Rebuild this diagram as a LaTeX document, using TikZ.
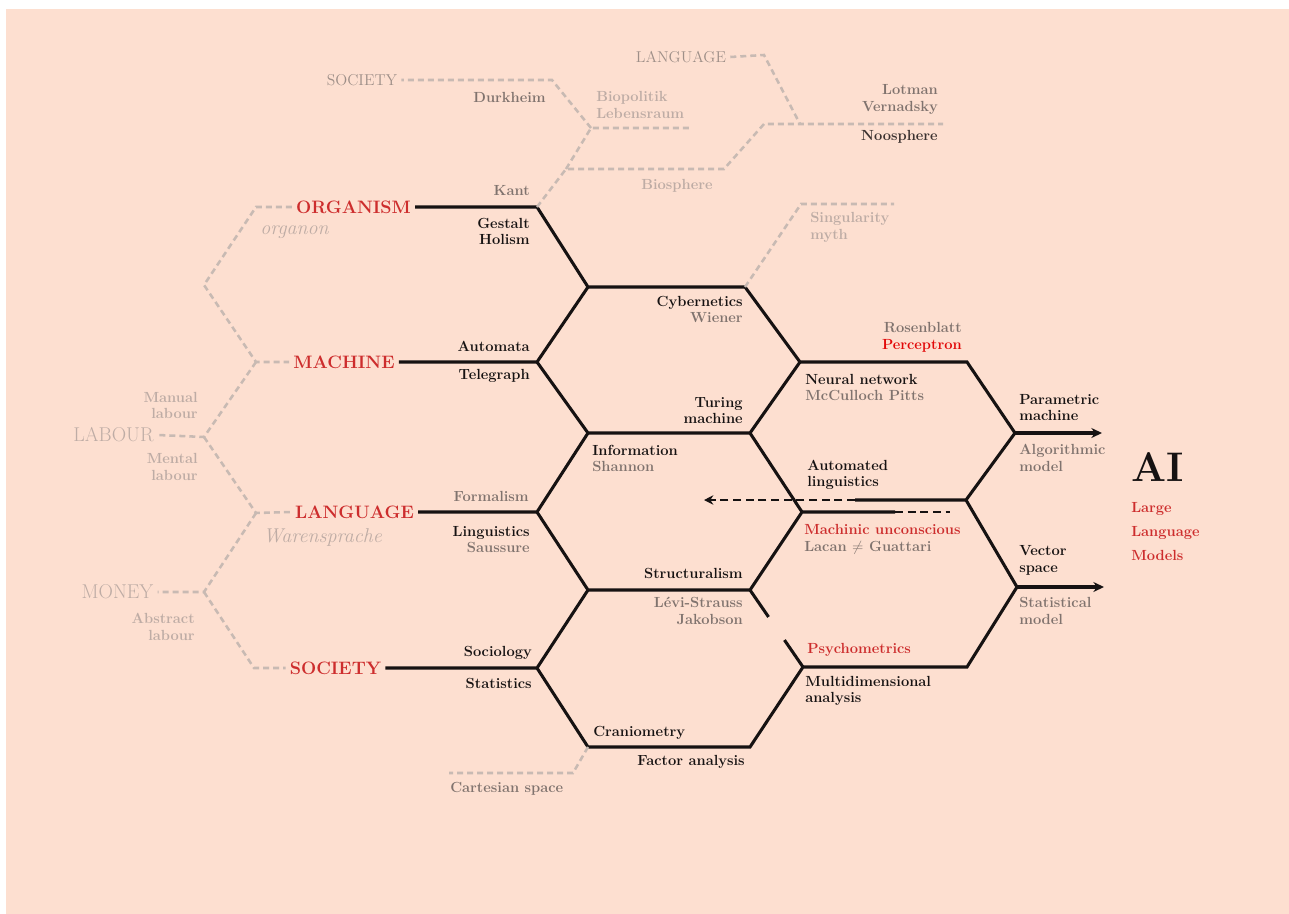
\documentclass[tikz,border=0pt]{standalone}
\usetikzlibrary{calc,positioning,arrows.meta,backgrounds}
\definecolor{peach}{RGB}{253,223,208}
\definecolor{hexred}{RGB}{205,45,45}
\definecolor{brightred}{RGB}{226,8,8}
\definecolor{ink}{RGB}{22,18,18}
\definecolor{namegray}{RGB}{128,115,110}
\definecolor{dimgray}{RGB}{158,143,136}
\definecolor{noogray}{RGB}{60,50,48}
\definecolor{fadegray}{RGB}{190,172,165}
\definecolor{dashgray}{RGB}{200,186,179}
\tikzstyle{every node}+=[inner sep=2pt,font=\fontsize{11}{12.5}\selectfont\bfseries]
\tikzstyle{hexline}=[ink,line width=2.3pt]
\tikzstyle{hexdash}=[ink,line width=2.1pt,dash pattern=on 6pt off 3.5pt]
\tikzstyle{faint}=[dashgray,line width=1.9pt,dash pattern=on 4.5pt off 3pt]
\tikzstyle{concept}=[hexred,inner sep=3pt,font=\fontsize{13.5}{15}\selectfont\bfseries]
\tikzstyle{ghost}=[fadegray,inner sep=3pt,font=\fontsize{15}{17}\selectfont]
\tikzstyle{ghostsmall}=[dimgray,inner sep=3pt,font=\fontsize{11.8}{14}\selectfont]
\tikzstyle{ghostit}=[fadegray,font=\fontsize{15}{17}\selectfont\itshape]
\tikzstyle{lblr}=[anchor=east,align=right,inner sep=0pt,text=ink]
\tikzstyle{lbll}=[anchor=west,align=left,inner sep=0pt,text=ink]
\newcommand{\who}[1]{\textcolor{namegray}{#1}}

\begin{document}
\begin{tikzpicture}[x=0.75pt,y=-0.75pt]
\useasboundingbox (0,0) rectangle (1289,914);
\fill[white] (0,0) rectangle (1289,914);
\fill[peach] (6,9) rectangle (1289,914);

% lattice corners
\coordinate (o1) at (537,207);
\coordinate (a1) at (588,287);
\coordinate (a2) at (745,287);
\coordinate (m1) at (537,362);
\coordinate (n1) at (800,362);
\coordinate (n2) at (967,362);
\coordinate (b1) at (588,433);
\coordinate (b2) at (750,433);
\coordinate (p1) at (1015,433);
\coordinate (pend) at (1102,433);
\coordinate (r1) at (966,500);
\coordinate (rcut) at (855,500);
\coordinate (rtip) at (704,500);
\coordinate (l1) at (537,512);
\coordinate (u1) at (802,512);
\coordinate (ucut) at (895,512);
\coordinate (uend) at (950,512);
\coordinate (s1) at (588,590);
\coordinate (s2) at (750,590);
\coordinate (v1) at (1017,587);
\coordinate (vend) at (1104,587);
\coordinate (c1) at (537,668);
\coordinate (q1) at (803,667);
\coordinate (q2) at (967,667);
\coordinate (f1) at (588,747);
\coordinate (f2) at (750,747);
\coordinate (gapA) at ($(s2)!0.35!(q1)$);
\coordinate (gapB) at ($(s2)!0.65!(q1)$);

% the four concepts
\node[concept] (organism) at (353.5,207) {ORGANISM};
\node[concept] (machine) at (344,362) {MACHINE};
\node[concept] (language) at (354.5,512) {LANGUAGE};
\node[concept] (society) at (335.5,668) {SOCIETY};
\node[ghost] (labour) at (113.5,435) {LABOUR};
\node[ghost] (money) at (117.5,592) {MONEY};
\node[ghostsmall] (topsociety) at (362,80) {SOCIETY};
\node[ghostsmall] (toplanguage) at (681,57) {LANGUAGE};

% hexagons
\draw[hexline] (organism.east) -- (o1) -- (a1) -- (a2) -- (n1) -- (n2) -- (p1) -- (r1) -- (rcut);
\draw[hexline] (machine.east) -- (m1) -- (a1);
\draw[hexline] (m1) -- (b1) -- (b2) -- (n1);
\draw[hexline] (language.east) -- (l1) -- (b1);
\draw[hexline] (l1) -- (s1) -- (s2) -- (u1) -- (ucut);
\draw[hexline] (b2) -- (u1);
\draw[hexline] (society.east) -- (c1) -- (s1);
\draw[hexline] (c1) -- (f1) -- (f2) -- (q1) -- (q2) -- (v1) -- (r1);
\draw[hexline] (s2) -- (gapA);
\draw[hexline] (gapB) -- (q1);
\draw[hexline,-{Stealth[length=8pt,width=7.5pt]}] (p1) -- (pend);
\draw[hexline,-{Stealth[length=8pt,width=7.5pt]}] (v1) -- (vend);
\draw[hexdash,-{Stealth[length=7pt,width=7pt]}] (rcut) -- (rtip);
\draw[hexdash] (ucut) -- (uend);

% grey genealogy
\coordinate (k1) at (256,207);
\coordinate (k2) at (204,285);
\coordinate (k3) at (256,362);
\coordinate (k4) at (204,437);
\coordinate (k5) at (256,513);
\coordinate (k6) at (204,592);
\coordinate (k7) at (254,668);
\draw[faint] (organism.west) -- (k1) -- (k2) -- (k3) -- (machine.west);
\draw[faint] (k3) -- (k4) -- (labour.east);
\draw[faint] (k4) -- (k5) -- (language.west);
\draw[faint] (k5) -- (k6) -- (money.east);
\draw[faint] (k6) -- (k7) -- (society.west);

\coordinate (t1) at (566,169);
\coordinate (t2) at (724,169);
\coordinate (t3) at (764,124);
\coordinate (t4) at (943,124);
\coordinate (t5) at (591,128);
\coordinate (t6) at (692,128);
\coordinate (t7) at (552,80);
\coordinate (t8) at (764,55);
\coordinate (t9) at (800,124);
\coordinate (t10) at (801,204);
\coordinate (t11) at (894,204);
\coordinate (t12) at (573,773);
\coordinate (t13) at (449,773);
\draw[faint] (o1) -- (t1) -- (t2) -- (t3) -- (t4);
\draw[faint] (t1) -- (t5) -- (t6);
\draw[faint] (t5) -- (t7) -- (topsociety.east);
\draw[faint] (toplanguage.east) -- (t8) -- (t9);
\draw[faint] (a2) -- (t10) -- (t11);
\draw[faint] (f1) -- (t12) -- (t13);

% labels on the lattice
\node[lblr,text=namegray] (kant) at (530,191) {Kant};
\node[lblr] (gestalt) at (530,231.5) {Gestalt\\Holism};
\node[lblr] (automata) at (530,346) {Automata};
\node[lblr] (telegraph) at (530,376) {Telegraph};
\node[lblr,text=namegray] (formalism) at (529,496) {Formalism};
\node[lblr] (linguistics) at (530,539.5) {Linguistics\\\who{Saussure}};
\node[lblr] (sociology) at (532,653) {Sociology};
\node[lblr] (statistics) at (532,683) {Statistics};
\node[lblr] (cybernetics) at (743,309.5) {Cybernetics\\\who{Wiener}};
\node[lblr] (turing) at (743,410.5) {Turing\\machine};
\node[lblr] (structuralism) at (743,573) {Structuralism};
\node[lblr,text=namegray] (levistrauss) at (743,611) {Lévi-Strauss\\Jakobson};
\node[lblr] (factor) at (745,762) {Factor analysis};
\node[lblr,text=namegray] (rosenblatt) at (962,337.5) {Rosenblatt\\\textcolor{brightred}{Perceptron}};
\node[lbll] (information) at (592,458.5) {Information\\\who{Shannon}};
\node[lbll] (neural) at (805,387.5) {Neural network\\\who{McCulloch Pitts}};
\node[lbll] (parametric) at (1019,407.5) {Parametric\\machine};
\node[lbll,text=namegray] (algorithmic) at (1019,458) {Algorithmic\\model};
\node[lbll] (automated) at (807,475) {Automated\\linguistics};
\node[lbll,text=hexred] (machinic) at (804,539.5) {Machinic unconscious\\\who{Lacan $\neq$ Guattari}};
\node[lbll] (vector) at (1019,560.5) {Vector\\space};
\node[lbll,text=namegray] (statistical) at (1019,611) {Statistical\\model};
\node[lbll,text=hexred] (psychometrics) at (807,650) {Psychometrics};
\node[lbll] (multidim) at (805,691) {Multidimensional\\analysis};
\node[lbll] (craniometry) at (593,733) {Craniometry};
\node[lbll,text=namegray] (cartesian) at (450,789) {Cartesian space};

% labels on the grey lines
\node[lblr,text=namegray] (durkheim) at (546,97) {Durkheim};
\node[lbll,text=fadegray] (biopolitik) at (596,105) {Biopolitik\\Lebensraum};
\node[lblr,text=namegray] (lotman) at (938,99.5) {Lotman\\Vernadsky};
\node[lblr,text=noogray] (noosphere) at (938,137) {Noosphere};
\node[text=fadegray,inner sep=0pt] (biosphere) at (677,186) {Biosphere};
\node[lbll,text=fadegray] (singularity) at (810,227.5) {Singularity\\myth};
\node[lblr,text=fadegray] (manual) at (198,405.5) {Manual\\labour};
\node[lblr,text=fadegray] (mental) at (198,467) {Mental\\labour};
\node[lblr,text=fadegray] (abstract) at (195,627) {Abstract\\labour};
\node[lbll,ghostit] (organon) at (260,232) {organon};
\node[lbll,ghostit] (warensprache) at (263,537) {Warensprache};

% outcome
\node[lbll,font=\fontsize{31}{31}\selectfont\bfseries] (ai) at (1131,467.5) {AI};
\node[lbll,text=hexred,font=\fontsize{11}{18}\selectfont\bfseries] (llm) at (1131,532) {Large\\Language\\Models};
\end{tikzpicture}
\end{document}
